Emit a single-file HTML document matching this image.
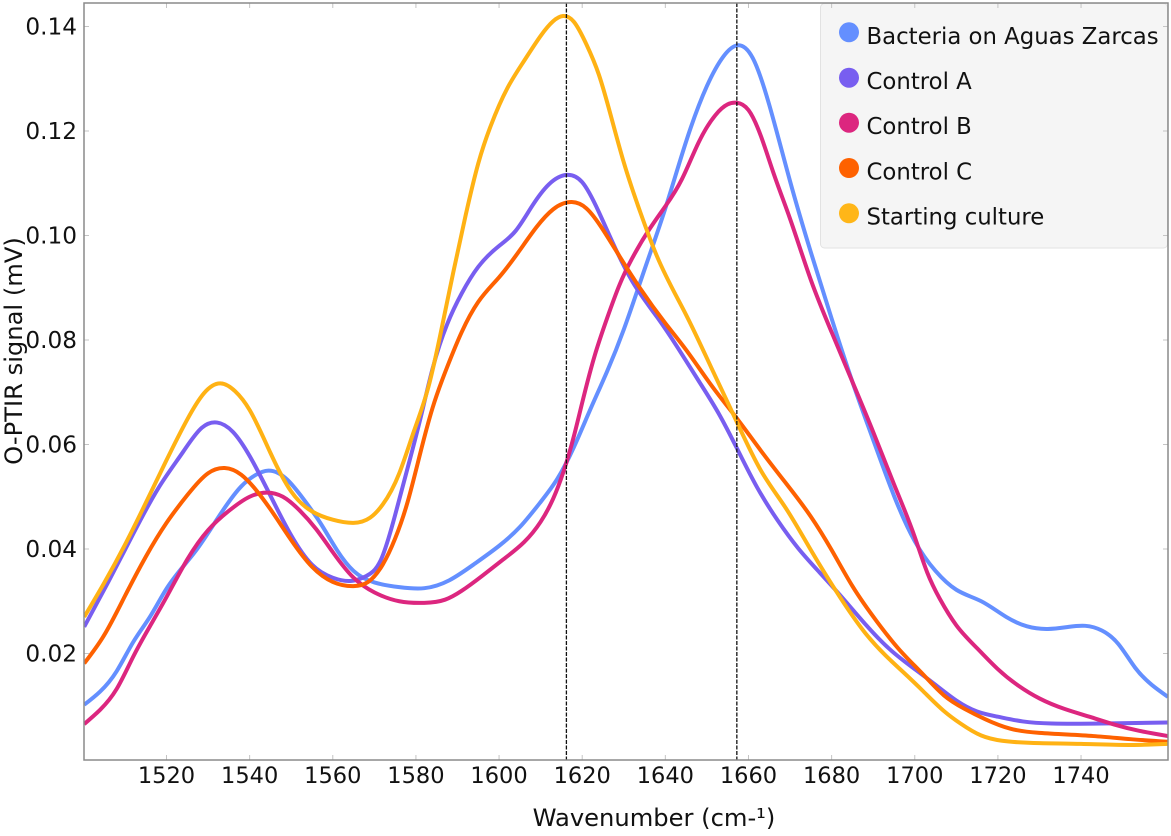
<!DOCTYPE html>
<html lang="en">
<head>
<meta charset="utf-8">
<title>O-PTIR spectra</title>
<style>
html,body{margin:0;padding:0;background:#fff;}
svg{display:block;font-family:"DejaVu Sans","Liberation Sans",sans-serif;}
</style>
</head>
<body>
<svg id="chart" xmlns="http://www.w3.org/2000/svg" width="1171" height="836" viewBox="0 0 1171 836">
  <defs>
    <clipPath id="plot-clip"><rect x="84" y="3" width="1084" height="757"/></clipPath>
  </defs>
  <rect x="0" y="0" width="1171" height="836" fill="#ffffff"/>
  <g id="series-layer" clip-path="url(#plot-clip)"></g>
  <g id="peak-layer"></g>
  <g>
    <rect x="820.5" y="3.5" width="347" height="244.5" rx="4" fill="#f5f5f5" stroke="#e2e2e2"/>
    <circle cx="849" cy="32.3" r="10" fill="#648fff"/>
    <text x="866.5" y="44" font-size="22.8" fill="#111">Bacteria on Aguas Zarcas</text>
    <circle cx="849" cy="77.7" r="10" fill="#785ef0"/>
    <text x="866.5" y="89" font-size="22.8" fill="#111">Control A</text>
    <circle cx="849" cy="122.7" r="10" fill="#dc267f"/>
    <text x="866.5" y="134" font-size="22.8" fill="#111">Control B</text>
    <circle cx="849" cy="168" r="10" fill="#fe6100"/>
    <text x="866.5" y="179.5" font-size="22.8" fill="#111">Control C</text>
    <circle cx="849" cy="213.3" r="10" fill="#ffb618"/>
    <text x="866.5" y="224.5" font-size="22.8" fill="#111">Starting culture</text>
  </g>
  <g id="axis-layer"></g>
  <text x="654" y="826" font-size="24.2" text-anchor="middle" fill="#111">Wavenumber (cm-¹)</text>
  <text transform="translate(22,351) rotate(-90)" font-size="24.2" text-anchor="middle" fill="#111">O-PTIR signal (mV)</text>
</svg>
<script>
const xTicks = [1520,1540,1560,1580,1600,1620,1640,1660,1680,1700,1720,1740];
const yTicks = [0.02,0.04,0.06,0.08,0.10,0.12,0.14];
const peakPositions = [1616.2,1657.2];

const bacteriaX = [1500.2,1504,1508,1512,1516,1520,1527,1532,1538,1541.5,1544.5,1549,1553,1557,1561,1565,1570,1576,1582,1588,1594,1600,1605,1610,1614,1618,1622,1626,1630,1635,1640,1645,1650,1654,1657.4,1661,1665,1670,1675,1680,1685,1690,1695,1700,1705,1710,1716,1722,1727,1732,1737,1741,1745,1749,1753,1757,1760.9];
const bacteriaY = [0.0102,0.0127,0.0166,0.0222,0.0270,0.0324,0.0396,0.0455,0.0520,0.0542,0.0550,0.0533,0.0495,0.0450,0.0398,0.0358,0.0336,0.0327,0.0325,0.0340,0.0371,0.0406,0.0442,0.0490,0.0534,0.0595,0.0668,0.0740,0.0820,0.0935,0.1052,0.1180,0.1286,0.1343,0.1364,0.1340,0.1250,0.1104,0.0968,0.0841,0.0720,0.0609,0.0502,0.0415,0.0358,0.0322,0.0300,0.0270,0.0252,0.0247,0.0251,0.0253,0.0244,0.0218,0.0173,0.0140,0.0117];

const controlAX = [1500.2,1506,1512,1518,1524,1528.5,1532.2,1536,1540,1545,1550,1555,1560,1564.5,1568,1571.5,1575,1578,1581,1584,1587.5,1591,1595,1600,1604,1608,1612,1616.3,1620,1624,1628,1632,1638,1643,1648,1653,1657.2,1662,1667,1672,1677,1682,1688,1694,1700,1705,1710,1715,1720,1726,1733,1745,1760.9];
const controlAY = [0.0251,0.0337,0.0429,0.0516,0.0586,0.0632,0.0642,0.0624,0.0578,0.0502,0.0426,0.0370,0.0345,0.0339,0.0348,0.0378,0.0465,0.0555,0.0647,0.0745,0.0830,0.0889,0.0940,0.0980,0.1009,0.1057,0.1098,0.1116,0.1102,0.1045,0.0975,0.0913,0.0844,0.0785,0.0722,0.0657,0.0593,0.0519,0.0455,0.0401,0.0356,0.0312,0.0257,0.0208,0.0170,0.0140,0.0110,0.0089,0.0079,0.0070,0.0066,0.0066,0.0068];

const controlBX = [1500.2,1504,1508,1512,1516,1520,1525,1530,1535,1540,1544,1548,1552,1556,1560,1565,1570,1576,1582,1587,1591,1596,1601,1606,1610,1613,1615.5,1618,1620,1623,1626,1629,1632,1636,1640,1644,1648,1652,1655,1657.2,1660,1663,1666,1670,1675,1680,1685,1690,1695,1700,1703,1706,1710,1715,1720,1725,1730,1736,1742,1748,1754,1760.9];
const controlBY = [0.0065,0.0092,0.0132,0.0194,0.0252,0.0308,0.0380,0.0436,0.0473,0.0500,0.0508,0.0500,0.0474,0.0438,0.0394,0.0345,0.0317,0.0300,0.0297,0.0303,0.0320,0.0349,0.0380,0.0413,0.0452,0.0496,0.0548,0.0616,0.0680,0.0770,0.0842,0.0906,0.0956,0.1010,0.1056,0.1108,0.1178,0.1230,0.1251,0.1254,0.1240,0.1190,0.1120,0.1032,0.0915,0.0815,0.0720,0.0624,0.0524,0.0423,0.0355,0.0305,0.0254,0.0210,0.0170,0.0138,0.0114,0.0094,0.0079,0.0064,0.0052,0.0042];

const controlCX = [1500.2,1505,1510,1515,1520,1525,1530,1534,1538,1541,1545,1550,1555,1560,1565,1568.5,1572,1575,1578,1581,1584,1587.5,1591,1595,1600,1605,1609,1613,1617.5,1621,1625,1629,1634,1640,1645,1651,1657.2,1663,1669,1675,1680,1685,1691,1696,1702,1707,1712,1717,1723,1730,1743,1752,1760.9];
const controlCY = [0.0181,0.0235,0.0310,0.0385,0.0450,0.0503,0.0545,0.0555,0.0542,0.0518,0.0476,0.0417,0.0366,0.0337,0.0329,0.0337,0.0370,0.0420,0.0490,0.0582,0.0670,0.0748,0.0815,0.0873,0.0920,0.0972,0.1016,0.1050,0.1064,0.1052,0.1011,0.0960,0.0898,0.0832,0.0781,0.0714,0.0650,0.0588,0.0526,0.0462,0.0398,0.0329,0.0260,0.0210,0.0160,0.0120,0.0094,0.0074,0.0056,0.0048,0.0042,0.0036,0.0031];

const startingX = [1500.2,1505,1510,1515,1520,1525,1529,1533,1536.5,1540,1545,1550,1555,1560,1565,1569,1572,1576,1579.5,1583,1586,1589,1592,1595,1598,1602,1606,1610,1613,1615.4,1618,1621,1624,1627,1630,1634,1638,1645,1651,1657.2,1663,1669,1675,1682,1688,1693,1697,1702,1707,1711,1716,1721,1728,1740,1752,1760.9];
const startingY = [0.0270,0.0335,0.0408,0.0488,0.0570,0.0648,0.0698,0.0717,0.0702,0.0666,0.0584,0.0510,0.0472,0.0456,0.0450,0.0460,0.0485,0.0545,0.0625,0.0710,0.0815,0.0930,0.1040,0.1138,0.1210,0.1282,0.1334,0.1382,0.1410,0.1420,0.1409,0.1366,0.1308,0.1226,0.1140,0.1044,0.0960,0.0848,0.0748,0.0643,0.0550,0.0478,0.0398,0.0308,0.0240,0.0196,0.0166,0.0128,0.0090,0.0066,0.0043,0.0033,0.0029,0.0027,0.0025,0.0027];

const PX_PER_WAVENUMBER = 4.157;
const PX_PER_SIGNAL = 5225;
const PLOT_LEFT = 84;
const PLOT_RIGHT = 1168;
const PLOT_TOP = 3;
const PLOT_BOTTOM = 760;
const SVG_NS = 'http://www.w3.org/2000/svg';

function xScale(w) {
  return 166.5 + (w - 1520) * PX_PER_WAVENUMBER;
}
function yScale(v) {
  return 653.5 - (v - 0.02) * PX_PER_SIGNAL;
}

// Natural cubic spline through the points, written out as Bezier segments.
function smoothPath(xs, ys) {
  const px = xs.map(xScale);
  const py = ys.map(yScale);
  const n = px.length;
  const h = [];
  for (let i = 0; i < n - 1; i++) {
    h.push(px[i + 1] - px[i]);
  }
  const cp = new Array(n).fill(0);
  const dp = new Array(n).fill(0);
  for (let i = 1; i < n - 1; i++) {
    const a = h[i - 1];
    const b = 2 * (h[i - 1] + h[i]);
    const c = h[i];
    const r = 6 * ((py[i + 1] - py[i]) / h[i] - (py[i] - py[i - 1]) / h[i - 1]);
    const den = b - a * cp[i - 1];
    cp[i] = c / den;
    dp[i] = (r - a * dp[i - 1]) / den;
  }
  const m = new Array(n).fill(0);
  for (let i = n - 2; i > 0; i--) {
    m[i] = dp[i] - cp[i] * m[i + 1];
  }
  let d = 'M' + px[0].toFixed(2) + ' ' + py[0].toFixed(2);
  for (let i = 0; i < n - 1; i++) {
    const s = (py[i + 1] - py[i]) / h[i];
    const t0 = s - h[i] * (2 * m[i] + m[i + 1]) / 6;
    const t1 = s + h[i] * (m[i] + 2 * m[i + 1]) / 6;
    const k = h[i] / 3;
    d += ' C' + (px[i] + k).toFixed(2) + ' ' + (py[i] + t0 * k).toFixed(2) +
         ' ' + (px[i + 1] - k).toFixed(2) + ' ' + (py[i + 1] - t1 * k).toFixed(2) +
         ' ' + px[i + 1].toFixed(2) + ' ' + py[i + 1].toFixed(2);
  }
  return d;
}

function drawSeries(xs, ys, color, name) {
  const el = document.createElementNS(SVG_NS, 'path');
  
  
  el.setAttribute('d', smoothPath(xs, ys));
  el.setAttribute('fill', 'none');
  el.setAttribute('stroke', color);
  el.setAttribute('stroke-width', '4');
  el.setAttribute('stroke-linejoin', 'round');
  document.getElementById('series-layer').appendChild(el);
}

drawSeries(bacteriaX, bacteriaY, '#648fff', 'series-bacteria-on-aguas-zarcas');
drawSeries(controlAX, controlAY, '#785ef0', 'series-control-a');
drawSeries(controlBX, controlBY, '#dc267f', 'series-control-b');
drawSeries(controlCX, controlCY, '#fe6100', 'series-control-c');
drawSeries(startingX, startingY, '#ffb214', 'series-starting-culture');

const peakLayer = document.getElementById('peak-layer');
peakPositions.forEach(function (w) {
  const el = document.createElementNS(SVG_NS, 'line');
  
  
  el.setAttribute('x1', xScale(w));
  el.setAttribute('x2', xScale(w));
  el.setAttribute('y1', PLOT_TOP);
  el.setAttribute('y2', PLOT_BOTTOM);
  el.setAttribute('stroke', '#111');
  el.setAttribute('stroke-width', '1.3');
  el.setAttribute('stroke-dasharray', '4 1.5');
  peakLayer.appendChild(el);
});

const axisLayer = document.getElementById('axis-layer');

function addTick(name, x1, y1, x2, y2) {
  const el = document.createElementNS(SVG_NS, 'line');
  
  
  el.setAttribute('x1', x1);
  el.setAttribute('y1', y1);
  el.setAttribute('x2', x2);
  el.setAttribute('y2', y2);
  el.setAttribute('stroke', '#c4c4c4');
  el.setAttribute('stroke-width', '1');
  axisLayer.appendChild(el);
}

function addLabel(name, x, y, anchor, size, str) {
  const el = document.createElementNS(SVG_NS, 'text');
  
  
  el.setAttribute('x', x);
  el.setAttribute('y', y);
  el.setAttribute('text-anchor', anchor);
  el.setAttribute('font-size', size);
  el.setAttribute('fill', '#111');
  el.textContent = str;
  axisLayer.appendChild(el);
}

xTicks.forEach(function (t) {
  const x = xScale(t);
  addTick('x-tick-bottom', x, PLOT_BOTTOM, x, PLOT_BOTTOM - 5);
  addTick('x-tick-top', x, PLOT_TOP, x, PLOT_TOP + 5);
  addLabel('x-tick-label', x, 783, 'middle', '22.5', String(t));
});

yTicks.forEach(function (t) {
  const y = yScale(t);
  addTick('y-tick-left', PLOT_LEFT, y, PLOT_LEFT + 5, y);
  addTick('y-tick-right', PLOT_RIGHT, y, PLOT_RIGHT - 5, y);
  addLabel('y-tick-label', 77, y + 8, 'end', '23.2', t.toFixed(2));
});

const frame = document.createElementNS(SVG_NS, 'rect');


frame.setAttribute('x', PLOT_LEFT);
frame.setAttribute('y', PLOT_TOP);
frame.setAttribute('width', PLOT_RIGHT - PLOT_LEFT);
frame.setAttribute('height', PLOT_BOTTOM - PLOT_TOP);
frame.setAttribute('fill', 'none');
frame.setAttribute('stroke', '#8a8a8a');
frame.setAttribute('stroke-width', '1.5');
axisLayer.appendChild(frame);
</script>
</body>
</html>
